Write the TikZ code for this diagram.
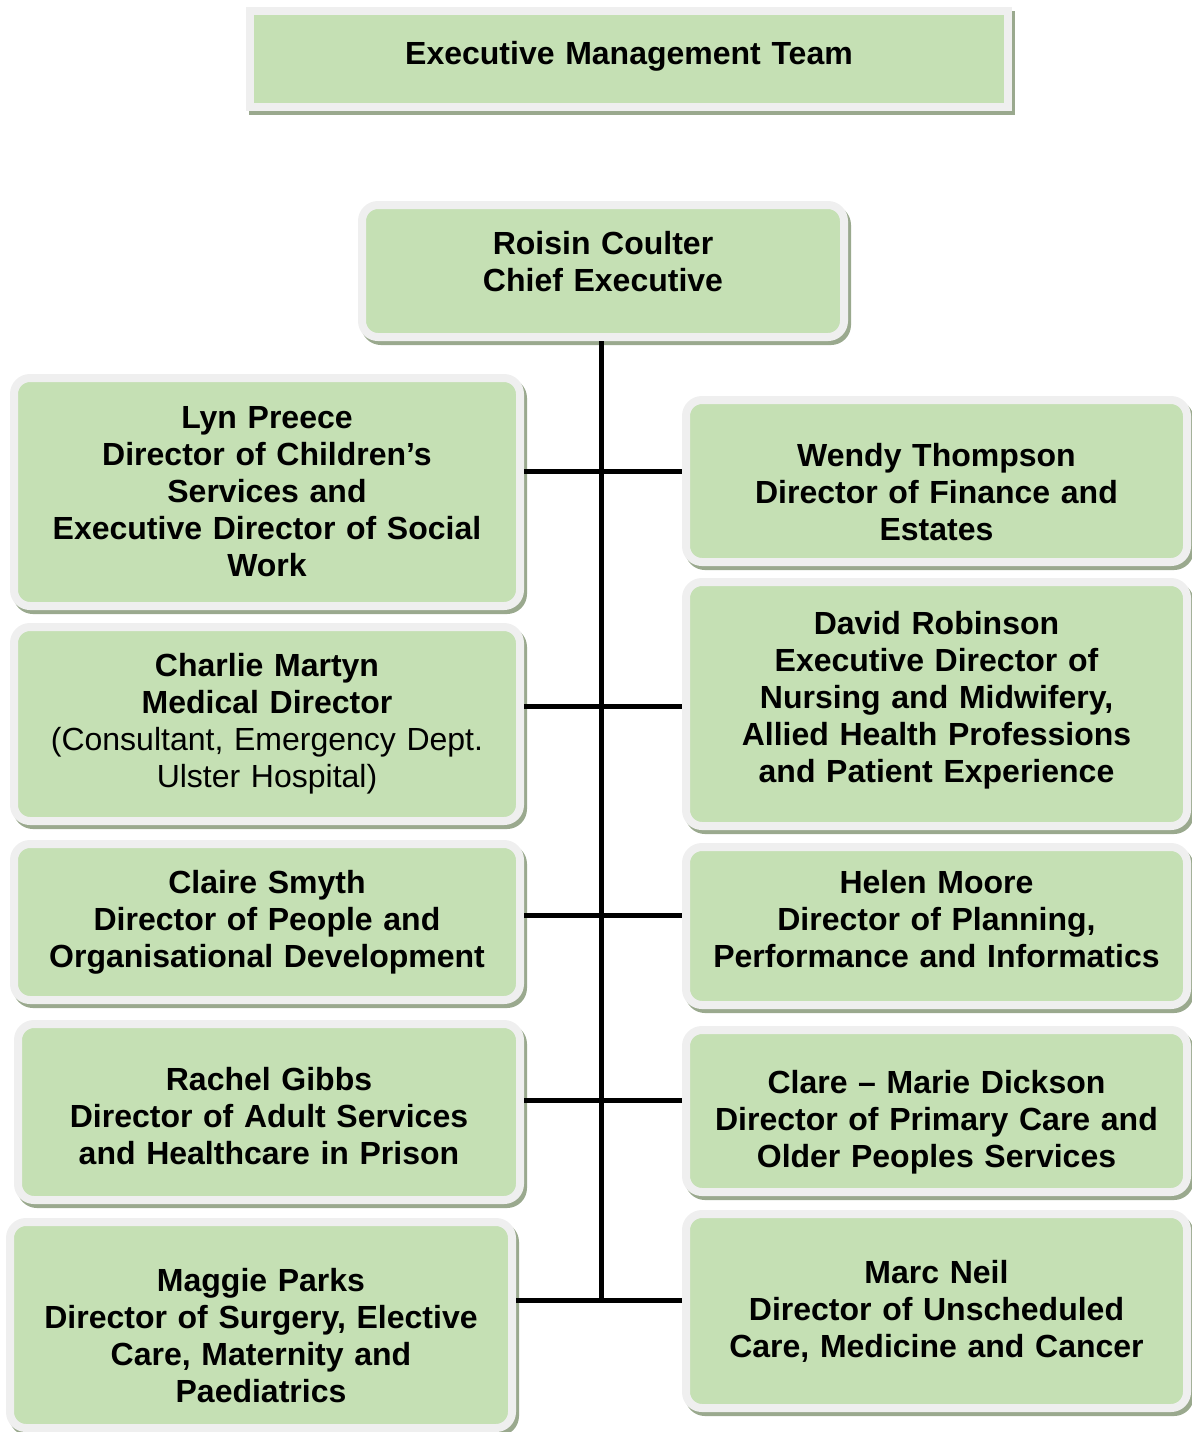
\documentclass[tikz,border=0pt]{standalone}
\usepackage{fontspec}
\setmainfont{Liberation Sans}
\usetikzlibrary{shadows}

\definecolor{boxgreen}{HTML}{C5E0B4}
\definecolor{boxrim}{HTML}{EFEFEF}
\definecolor{boxshade}{HTML}{9AA98E}

\newcommand\padtop[1]{\rule{0pt}{\dimexpr\fontcharht\font`\d+#1\relax}}
\newcommand\padbot[1]{\rule[-#1]{0pt}{0pt}}

\begin{document}
\begin{tikzpicture}[
    x=0.5pt, y=-0.5pt,
    font=\fontsize{16pt}{18.5pt}\selectfont\bfseries,
    unit/.style={fill=boxgreen, draw=boxrim, line width=4pt, align=center,
      inner sep=0pt, text width=245pt, rounded corners=8pt,
      general shadow={fill=boxshade, draw=boxshade, line width=4pt,
        shadow xshift=1.5pt, shadow yshift=-2pt}},
    leftcol/.style={unit, minimum width=253pt},
    rightcol/.style={unit, minimum width=250.5pt},
    link/.style={line width=2.5pt, black}
  ]
  \useasboundingbox (0,0) rectangle (1192,1432);

  \node[unit, rounded corners=0pt, minimum width=379pt, minimum height=48pt,
    text width=370pt] (emt) at (629,59) {Executive Management Team\padbot{6.4pt}};

  \node[unit, minimum width=241pt, minimum height=66pt, text width=235pt]
    (ceo) at (603,271) {Roisin Coulter\\ Chief Executive\padbot{10pt}};

  \node[leftcol, minimum height=114pt] (lyn) at (267,492)
    {Lyn Preece\\ Director of Children’s\\ Services and\\ Executive Director of Social\\ Work};
  \node[leftcol, minimum height=97pt] (charlie) at (267,724)
    {Charlie Martyn\\ Medical Director\\ \mdseries (Consultant, Emergency Dept.\\ \mdseries Ulster Hospital)};
  \node[leftcol, minimum height=78pt] (claire) at (267,922)
    {Claire Smyth\\ Director of People and\\ Organisational Development};
  \node[leftcol, minimum width=251pt, minimum height=88pt] (rachel) at (269,1112)
    {\padtop{5pt}Rachel Gibbs\\ Director of Adult Services\\ and Healthcare in Prison};
  \node[leftcol, minimum width=251pt, minimum height=103pt] (maggie) at (261,1325)
    {\padtop{11pt}Maggie Parks\\ Director of Surgery, Elective\\ Care, Maternity and\\ Paediatrics};

  \node[rightcol, minimum height=81pt] (wendy) at (936.5,481)
    {\padtop{12pt}Wendy Thompson\\ Director of Finance and\\ Estates};
  \node[rightcol, minimum height=122pt] (david) at (936.5,704)
    {David Robinson\\ Executive Director of\\ Nursing and Midwifery,\\ Allied Health Professions\\ and Patient Experience\padbot{7.4pt}};
  \node[rightcol, minimum height=79pt] (helen) at (936.5,926)
    {Helen Moore\\ Director of Planning,\\ Performance and Informatics\padbot{7pt}};
  \node[rightcol, minimum height=81pt] (clare) at (936.5,1111)
    {\padtop{12pt}Clare – Marie Dickson\\ Director of Primary Care and\\ Older Peoples Services};
  \node[rightcol, minimum height=97pt] (marc) at (936.5,1311)
    {Marc Neil\\ Director of Unscheduled\\ Care, Medicine and Cancer};

  \coordinate (j1) at (601,471);
  \coordinate (j2) at (601,706);
  \coordinate (j3) at (601,915);
  \coordinate (j4) at (601,1100);
  \coordinate (j5) at (601,1300);

  \draw[link] (ceo.south -| j1) -- (j5);
  \draw[link] (lyn.east |- j1) -- (wendy.west |- j1);
  \draw[link] (charlie.east |- j2) -- (david.west |- j2);
  \draw[link] (claire.east |- j3) -- (helen.west |- j3);
  \draw[link] (rachel.east |- j4) -- (clare.west |- j4);
  \draw[link] (maggie.east |- j5) -- (marc.west |- j5);
\end{tikzpicture}
\end{document}
